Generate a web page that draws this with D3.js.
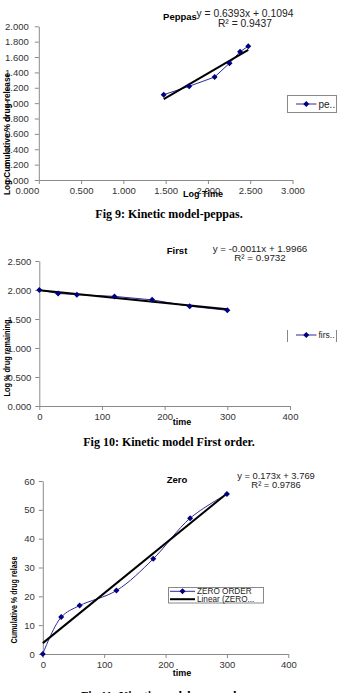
<!DOCTYPE html>
<html>
<head>
<meta charset="utf-8">
<script src="https://cdn.jsdelivr.net/npm/d3@7"></script>
<style>
  body { margin: 0; background: #fff; }
  svg { display: block; font-family: "Liberation Sans", Arial, sans-serif; }
  .axis path, .axis line { stroke: #8a8a8a; }
  .axis text { fill: #333; font-size: 9.5px; font-family: "Liberation Sans", Arial, sans-serif; }
  .caption { font-family: "Liberation Serif", "Times New Roman", serif; font-weight: bold; font-size: 12px; }
</style>
</head>
<body>
<svg width="346" height="693"></svg>
<script>
// sampling times (min) and the measured release values
const times = [0, 30, 60, 120, 180, 240, 300];
const logTimes = [1.477, 1.778, 2.079, 2.255, 2.380, 2.477];
const logCumRelease = [1.11, 1.22, 1.34, 1.52, 1.67, 1.74];
const logRemaining = [2.000, 1.94, 1.92, 1.89, 1.83, 1.72, 1.65];
const cumRelease = [0, 12.8, 16.8, 22.0, 33.0, 47.1, 55.5];

// linear trendlines: [slope, intercept, r2]
const peppasFit = [0.6393, 0.1094, 0.9437];
const firstFit = [-0.0011, 1.9966, 0.9732];
const zeroFit = [0.173, 3.769, 0.9786];

const peppasXTicks = [0, 0.5, 1, 1.5, 2, 2.5, 3];
const peppasYTicks = [0, 0.2, 0.4, 0.6, 0.8, 1.0, 1.2, 1.4, 1.6, 1.8, 2.0];
const firstYTicks = [0, 0.5, 1.0, 1.5, 2.0, 2.5];
const timeTicks = [0, 100, 200, 300, 400];
const zeroYTicks = [0, 10, 20, 30, 40, 50, 60];

const svg = d3.select('svg');
const blue = '#2b2b9c';
const navy = '#000080';
const f3 = d3.format('.3f');

function panel(o) {
  const x = d3.scaleLinear().domain(o.xDomain).range(o.xRange);
  const y = d3.scaleLinear().domain(o.yDomain).range(o.yRange);
  const g = svg.append('g');

  const xa = g.append('g')
    .attr('class', 'axis')
    .attr('transform', `translate(0,${o.yRange[0]})`)
    .call(d3.axisBottom(x).tickValues(o.xTicks).tickFormat(o.xFmt).tickSize(4).tickSizeOuter(0).tickPadding(3));
  g.append('g')
    .attr('class', 'axis')
    .attr('transform', `translate(${o.xRange[0]},0)`)
    .call(d3.axisLeft(y).tickValues(o.yTicks).tickFormat(o.yFmt).tickSize(4).tickSizeOuter(0).tickPadding(o.yPad || 3));
  g.selectAll('.axis .domain').attr('stroke', '#8a8a8a');

  const pts = o.xs.map((v, i) => [v, o.ys[i]]);
  g.append('path')
    .datum(pts)
    .attr('fill', 'none')
    .attr('stroke', blue)
    .attr('stroke-width', 1)
    .attr('d', d3.line().x(d => x(d[0])).y(d => y(d[1])).curve(o.curve || d3.curveLinear));

  const xEnds = d3.extent(o.xs);
  g.append('path')
    .datum(xEnds.map(v => [v, o.fit[0] * v + o.fit[1]]))
    .attr('fill', 'none')
    .attr('stroke', '#000')
    .attr('stroke-width', 2)
    .attr('d', d3.line().x(d => x(d[0])).y(d => y(d[1])));

  g.selectAll('.pt')
    .data(pts)
    .enter().append('path')
    .attr('transform', d => `translate(${x(d[0])},${y(d[1])}) rotate(45)`)
    .attr('d', d3.symbol(d3.symbolSquare).size(18))
    .attr('fill', navy);

  // title and trendline equation
  g.append('text').attr('x', o.title[1]).attr('y', o.title[2])
    .attr('text-anchor', 'middle').attr('font-size', 9.5).attr('font-weight', 'bold')
    .text(o.title[0]);
  const sign = o.fit[1] >= 0 ? '+' : '-';
  const slopeTxt = o.fit[0] < 0 ? '-' + Math.abs(o.fit[0]) : o.fit[0];
  g.append('text').attr('x', o.eq[0]).attr('y', o.eq[1])
    .attr('text-anchor', 'middle').attr('font-size', o.eq[3]).attr('fill', '#222')
    .text(`y = ${slopeTxt}x ${sign} ${Math.abs(o.fit[1])}`);
  g.append('text').attr('x', o.eq[0]).attr('y', o.eq[2])
    .attr('text-anchor', 'middle').attr('font-size', o.eq[3]).attr('fill', '#222')
    .text(`R² = ${o.fit[2]}`);

  // axis titles
  g.append('text').attr('x', o.xLabel[1]).attr('y', o.xLabel[2])
    .attr('text-anchor', 'middle').attr('font-size', 9).attr('font-weight', 'bold')
    .text(o.xLabel[0]);
  g.append('text')
    .attr('transform', `translate(${o.yLabel[1]},${o.yLabel[2]}) rotate(-90)`)
    .attr('text-anchor', 'middle').attr('font-size', 8.5).attr('font-weight', 'bold')
    .attr('textLength', o.yLabel[3]).attr('lengthAdjust', 'spacingAndGlyphs')
    .text(o.yLabel[0]);

  return { x, y, g, xa };
}

function legendEntry(g, x0, x1, yc, marker, stroke, sw, label, fs) {
  g.append('line').attr('x1', x0).attr('x2', x1).attr('y1', yc).attr('y2', yc)
    .attr('stroke', stroke).attr('stroke-width', sw);
  if (marker) {
    g.append('path')
      .attr('transform', `translate(${(x0 + x1) / 2},${yc}) rotate(45)`)
      .attr('d', d3.symbol(d3.symbolSquare).size(18))
      .attr('fill', navy);
  }
  g.append('text').attr('x', x1 + 2).attr('y', yc + fs * 0.35)
    .attr('font-size', fs).attr('fill', '#222').text(label);
}

// Fig 9: Peppas
const p1 = panel({
  xDomain: [0, 3], xRange: [38.8, 292.5],
  yDomain: [0, 2], yRange: [180, 26.3],
  xTicks: peppasXTicks, yTicks: peppasYTicks, xFmt: f3, yFmt: f3, yPad: 6,
  xs: logTimes, ys: logCumRelease, fit: peppasFit,
  title: ['Peppas', 180, 20],
  eq: [245, 16.5, 26.5, 10.3],
  xLabel: ['Log Time', 203, 197],
  yLabel: ['Log Cumulative % drug release', 10, 134, 122]
});
p1.xa.selectAll('.tick').filter(d => d === 0).select('text').attr('dx', -12);
p1.g.append('rect').attr('x', 287.5).attr('y', 95.5).attr('width', 49).attr('height', 17)
  .attr('fill', '#fff').attr('stroke', '#888');
legendEntry(p1.g, 296, 316.5, 104, true, blue, 1, 'pe..', 10);

svg.append('text').attr('class', 'caption').attr('x', 169).attr('y', 218)
  .attr('text-anchor', 'middle').text('Fig 9: Kinetic model-peppas.');

// Fig 10: First order
const p2 = panel({
  xDomain: [0, 400], xRange: [39.3, 290],
  yDomain: [0, 2.5], yRange: [406, 261],
  xTicks: timeTicks, yTicks: firstYTicks, xFmt: d3.format('d'), yFmt: f3, yPad: 4,
  xs: times, ys: logRemaining, fit: firstFit,
  title: ['First', 177, 254.3],
  eq: [260, 251.5, 261.3, 9.8],
  xLabel: ['time', 182, 425],
  yLabel: ['Log % drug remaining', 10, 358, 77]
});
p2.g.append('line').attr('x1', 287.5).attr('x2', 287.5).attr('y1', 330).attr('y2', 342).attr('stroke', '#888');
p2.g.append('line').attr('x1', 336.5).attr('x2', 336.5).attr('y1', 330).attr('y2', 342).attr('stroke', '#888');
legendEntry(p2.g, 296, 316.5, 335, true, blue, 1, 'firs..', 8.5);

svg.append('text').attr('class', 'caption').attr('x', 169).attr('y', 446)
  .attr('text-anchor', 'middle').text('Fig 10: Kinetic model First order.');

// Fig 11: Zero order
const p3 = panel({
  xDomain: [0, 400], xRange: [42.8, 288.3],
  yDomain: [0, 60], yRange: [654, 481],
  xTicks: timeTicks, yTicks: zeroYTicks, xFmt: d3.format('d'), yFmt: d3.format('d'), yPad: 4,
  xs: times, ys: cumRelease, fit: zeroFit, curve: d3.curveCatmullRom,
  title: ['Zero', 177, 483.3],
  eq: [276, 478.5, 488, 9.4],
  xLabel: ['time', 182, 676],
  yLabel: ['Cumulative % drug relase', 16.5, 600, 87]
});
p3.g.append('rect').attr('x', 168.5).attr('y', 587.5).attr('width', 95).attr('height', 15.5)
  .attr('fill', '#fff').attr('stroke', '#888');
legendEntry(p3.g, 170, 195, 591.3, true, blue, 1, 'ZERO ORDER', 8.2);
legendEntry(p3.g, 170, 195, 599.2, false, '#000', 2, 'Linear (ZERO...', 8.2);

svg.append('text').attr('class', 'caption').attr('x', 165).attr('y', 700)
  .attr('text-anchor', 'middle').text('Fig 11: Kinetic model zero order.');
</script>
</body>
</html>
